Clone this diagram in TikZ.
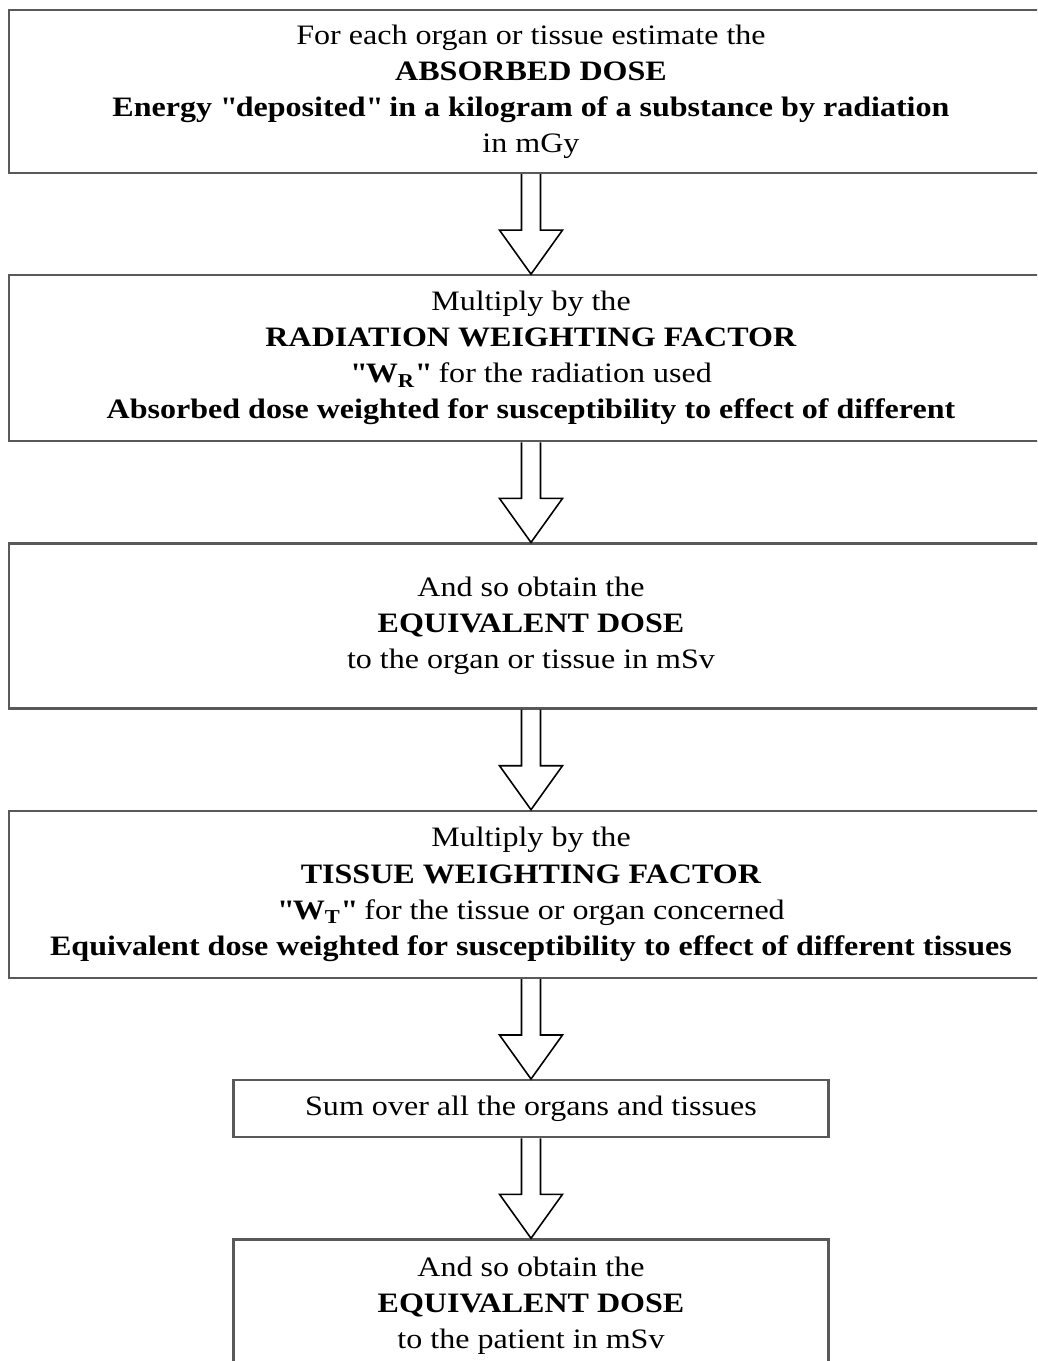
\documentclass[tikz,border=0pt]{standalone}
\usepackage{fontspec}
\setmainfont{Liberation Serif}[FakeStretch=1.14]
\usetikzlibrary{positioning,calc}

% Blockpfeil von Kasten #1 zu Kasten #2
\newcommand{\hollowarrow}[2]{%
  \draw[pfeil] ($(#1.south)+(-0.19,0)$) -- ($(#2.north)+(-0.19,0.88)$)
    -- ($(#2.north)+(-0.63,0.88)$) -- (#2.north)
    -- ($(#2.north)+(0.63,0.88)$) -- ($(#2.north)+(0.19,0.88)$)
    -- ($(#1.south)+(0.19,0)$);}

\begin{document}
\begin{tikzpicture}[node distance=2cm,
  kasten/.style={draw=black!65, line width=1.3pt, rectangle, align=center,
    minimum width=20.88cm, inner sep=0pt,
    font=\fontsize{16}{20.5}\selectfont},
  klein/.style={kasten, minimum width=11.9cm},
  pfeil/.style={draw=black, line width=0.9pt, line join=miter}]

\clip (0,0) rectangle (20.74,-27.22);

% Kaesten
\node[kasten, minimum height=3.26cm] (A) at (10.62,-1.83)
  {For each organ or tissue estimate the\\
   \textbf{ABSORBED DOSE}\\
   \textbf{Energy \textquotedbl deposited\textquotedbl{} in a kilogram of a substance by radiation}\\
   in mGy};
\node[kasten, minimum height=3.32cm, below=of A] (B)
  {Multiply by the\\
   \textbf{RADIATION WEIGHTING FACTOR}\\
   \textbf{\textquotedbl W\textsubscript{R}\textquotedbl} for the radiation used\\
   \textbf{Absorbed dose weighted for susceptibility to effect of different}};
\node[kasten, minimum height=3.3cm, below=of B] (C)
  {And so obtain the\\
   \textbf{EQUIVALENT DOSE}\\
   to the organ or tissue in mSv};
\node[kasten, minimum height=3.34cm, below=of C] (D)
  {Multiply by the\\
   \textbf{TISSUE WEIGHTING FACTOR}\\
   \textbf{\textquotedbl W\textsubscript{T}\textquotedbl} for the tissue or organ concerned\\
   \textbf{Equivalent dose weighted for susceptibility to effect of different tissues}};
\node[klein, minimum height=1.14cm, below=of D] (E)
  {Sum over all the organs and tissues};
\node[klein, minimum height=2.64cm, below=of E] (F)
  {And so obtain the\\
   \textbf{EQUIVALENT DOSE}\\
   to the patient in mSv};

% Pfeile
\foreach \a/\b in {A/B, B/C, C/D, D/E, E/F}
  \hollowarrow{\a}{\b};

\end{tikzpicture}
\end{document}
